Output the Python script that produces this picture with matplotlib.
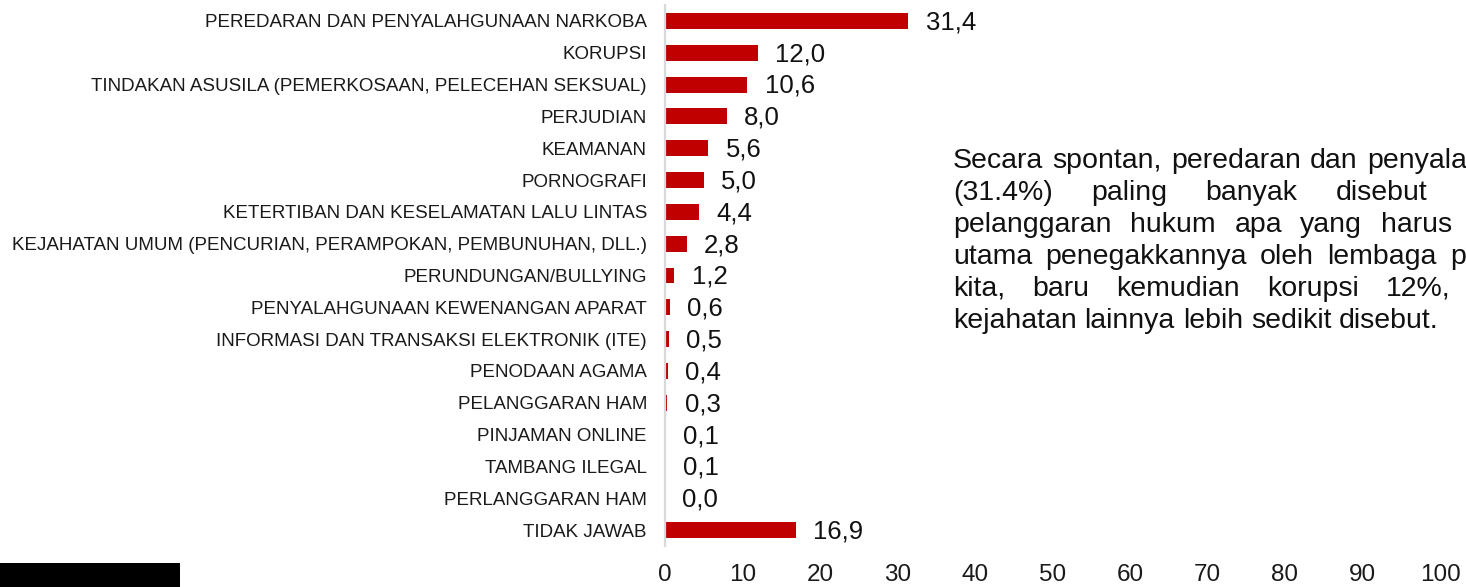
import matplotlib
matplotlib.use("Agg")
import matplotlib.pyplot as plt
from matplotlib.patches import Rectangle

categories = [
    "PEREDARAN DAN PENYALAHGUNAAN NARKOBA",
    "KORUPSI",
    "TINDAKAN ASUSILA (PEMERKOSAAN, PELECEHAN SEKSUAL)",
    "PERJUDIAN",
    "KEAMANAN",
    "PORNOGRAFI",
    "KETERTIBAN DAN KESELAMATAN LALU LINTAS",
    "KEJAHATAN UMUM (PENCURIAN, PERAMPOKAN, PEMBUNUHAN, DLL.)",
    "PERUNDUNGAN/BULLYING",
    "PENYALAHGUNAAN KEWENANGAN APARAT",
    "INFORMASI DAN TRANSAKSI ELEKTRONIK (ITE)",
    "PENODAAN AGAMA",
    "PELANGGARAN HAM",
    "PINJAMAN ONLINE",
    "TAMBANG ILEGAL",
    "PERLANGGARAN HAM",
    "TIDAK JAWAB",
]
values = [31.4, 12.0, 10.6, 8.0, 5.6, 5.0, 4.4, 2.8, 1.2, 0.6, 0.5, 0.4, 0.3, 0.1, 0.1, 0.0, 16.9]
xticks = [0, 10, 20, 30, 40, 50, 60, 70, 80, 90, 100]

paragraph_lines = [
    "Secara spontan, peredaran dan penyalahgunaan narkoba",
    "(31.4%) paling banyak disebut sebagai bentuk",
    "pelanggaran hukum apa yang harus menjadi prioritas",
    "utama penegakkannya oleh lembaga penegakan hukum",
    "kita, baru kemudian korupsi 12%, sedangkan tipe",
    "kejahatan lainnya lebih sedikit disebut.",
]

plt.rcParams['font.family'] = ['Liberation Sans', 'DejaVu Sans']

W, H = 1466, 587
fig = plt.figure(figsize=(W / 100, H / 100), dpi=100)
ax = fig.add_axes([665 / W, 1 - 546 / H, (1440 - 665) / W, (546 - 5) / H])

bar_color = "#c00000"
ypos = list(range(len(categories)))
ax.barh(ypos, values, height=0.5, color=bar_color)
ax.set_ylim(len(categories) - 0.5, -0.5)
ax.set_xlim(0, 100)
ax.set_yticks(ypos)
ax.set_yticklabels(categories, fontsize=13.5, color="#1a1a1a")
ax.set_xticks(xticks)
ax.set_xticklabels([str(t) for t in xticks], fontsize=17.5, color="#1a1a1a")
ax.tick_params(axis='y', length=0, pad=13)
ax.tick_params(axis='x', length=0, pad=13)
for s in ['top', 'right', 'bottom']:
    ax.spines[s].set_visible(False)
ax.spines['left'].set_color('#d9d9d9')
ax.spines['left'].set_linewidth(1.6)

for i, v in enumerate(values):
    ax.annotate(f"{v:.1f}".replace('.', ','), xy=(v, i), xytext=(12.5, -1),
                textcoords='offset points', va='center', ha='left',
                fontsize=18.5, color='#111111')

# black block bottom-left
fig.patches.append(Rectangle((0, 0), 180 / W, 24 / H, transform=fig.transFigure,
                             facecolor='black', edgecolor='none'))

# justified paragraph on the right (clipped by the figure edge, as in the reference)
renderer = fig.canvas.get_renderer()
fs = 20.5
x0 = 953
box_w = 737
base0 = 168
line_h = 32


def word_width(w):
    t = fig.text(0, 0, w, fontsize=fs)
    bb = t.get_window_extent(renderer=renderer)
    t.remove()
    return bb.width

space_w = word_width("a b") - word_width("ab")
for li, line in enumerate(paragraph_lines):
    words = line.split()
    widths = [word_width(w) for w in words]
    last = li == len(paragraph_lines) - 1
    if last or len(words) == 1:
        gap = space_w
    else:
        gap = (box_w - sum(widths)) / (len(words) - 1)
    x = x0
    yb = base0 + li * line_h
    for w, ww in zip(words, widths):
        fig.text(x / W, 1 - yb / H, w, fontsize=fs, va='baseline', ha='left', color='#111111')
        x += ww + gap

fig.savefig("out.png", dpi=100)
